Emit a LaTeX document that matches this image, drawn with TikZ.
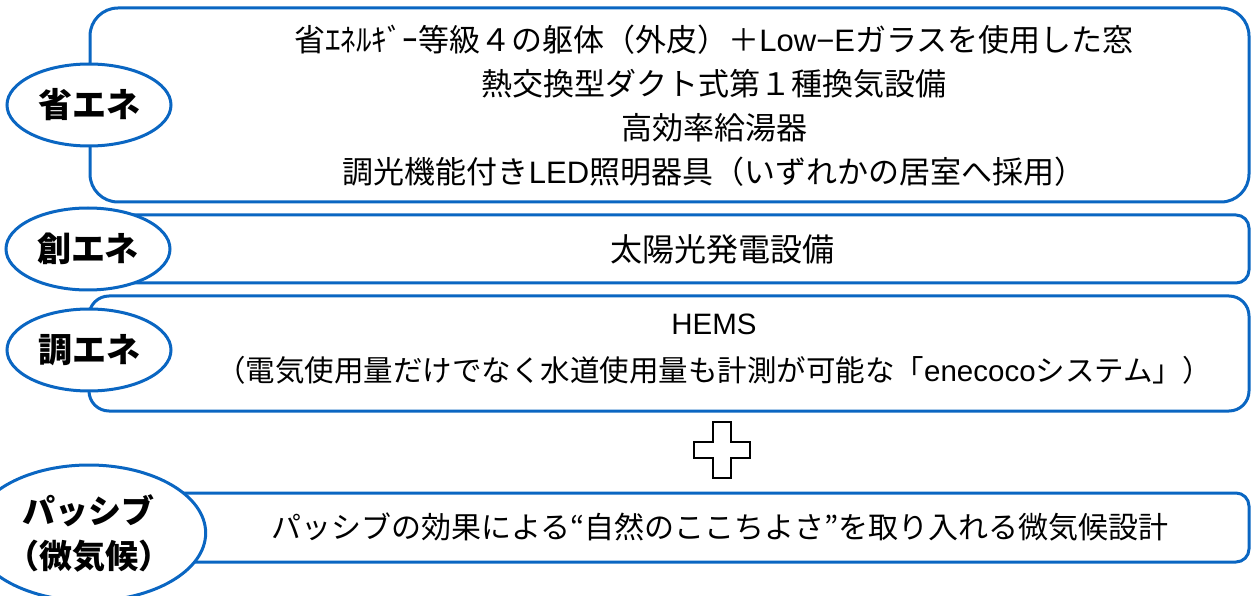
\documentclass[tikz,border=0pt]{standalone}
\usepackage{fontspec}
\setmainfont{Noto Sans CJK JP}
\newfontfamily\latn{Liberation Sans}
\usetikzlibrary{shapes.geometric}
\definecolor{lineblue}{HTML}{0A66C2}
\tikzset{
  box/.style={draw=lineblue, line width=3pt, rectangle, fill=white, inner sep=0pt},
  tag/.style={draw=lineblue, line width=3pt, ellipse, fill=white, inner sep=0pt,
    minimum width=164pt, font=\fontsize{34}{38}\selectfont\bfseries, align=center},
  body/.style={font=\fontsize{31}{44}\selectfont, align=center, inner sep=0pt},
}
\begin{document}
\begin{tikzpicture}[x=1pt,y=-1pt]
\useasboundingbox[fill=white] (0,0) rectangle (1251,596);
% boxes
\node[box, rounded corners=28pt, minimum width=1159pt, minimum height=194pt] (b1) at (669.5,105) {};
\node[box, rounded corners=13pt, minimum width=1159pt, minimum height=68pt] (b2) at (669.5,249) {};
\node[box, rounded corners=20pt, minimum width=1160pt, minimum height=115pt] (b3) at (669,353.5) {};
\node[box, rounded corners=13pt, minimum width=1159pt, minimum height=69pt] (b4) at (669.5,527.5) {};
% texts
\node[body] (t1) at (714,106) {省ｴﾈﾙｷﾞｰ等級４の躯体（外皮）＋{\latn Low−E}ガラスを使用した窓\\熱交換型ダクト式第１種換気設備\\高効率給湯器\\調光機能付き{\latn LED}照明器具（いずれかの居室へ採用）};
\node[body, font=\fontsize{32}{44}\selectfont] (t2) at (722,249) {太陽光発電設備};
\node[body, font=\fontsize{29.5}{47}\selectfont] (t3) at (714,349) {{\latn HEMS}\\（電気使用量だけでなく水道使用量も計測が可能な「{\latn enecoco}システム」）};
\node[body, font=\fontsize{30}{44}\selectfont] (t4) at (720,527) {パッシブの効果による“自然のここちよさ”を取り入れる微気候設計};
% labels
\node[tag, minimum height=82pt] (e1) at (89,105) {省エネ};
\node[tag, minimum height=82pt] (e2) at (88,249) {創エネ};
\node[tag, minimum height=82pt] (e3) at (89,350) {調エネ};
\node[tag, minimum height=136pt, font=\fontsize{33}{45}\selectfont\bfseries] (e4) at (89,533) {パッシブ\\（微気候）};
% plus sign
\coordinate (pc) at (722,450);
\draw[line width=2.2pt, fill=white, line join=miter]
  ([shift={(-9,-28)}]pc) -- ([shift={(9,-28)}]pc) -- ([shift={(9,-8)}]pc) -- ([shift={(28,-8)}]pc)
  -- ([shift={(28,8)}]pc) -- ([shift={(9,8)}]pc) -- ([shift={(9,28)}]pc) -- ([shift={(-9,28)}]pc)
  -- ([shift={(-9,8)}]pc) -- ([shift={(-28,8)}]pc) -- ([shift={(-28,-8)}]pc) -- ([shift={(-9,-8)}]pc) -- cycle;
\end{tikzpicture}
\end{document}
